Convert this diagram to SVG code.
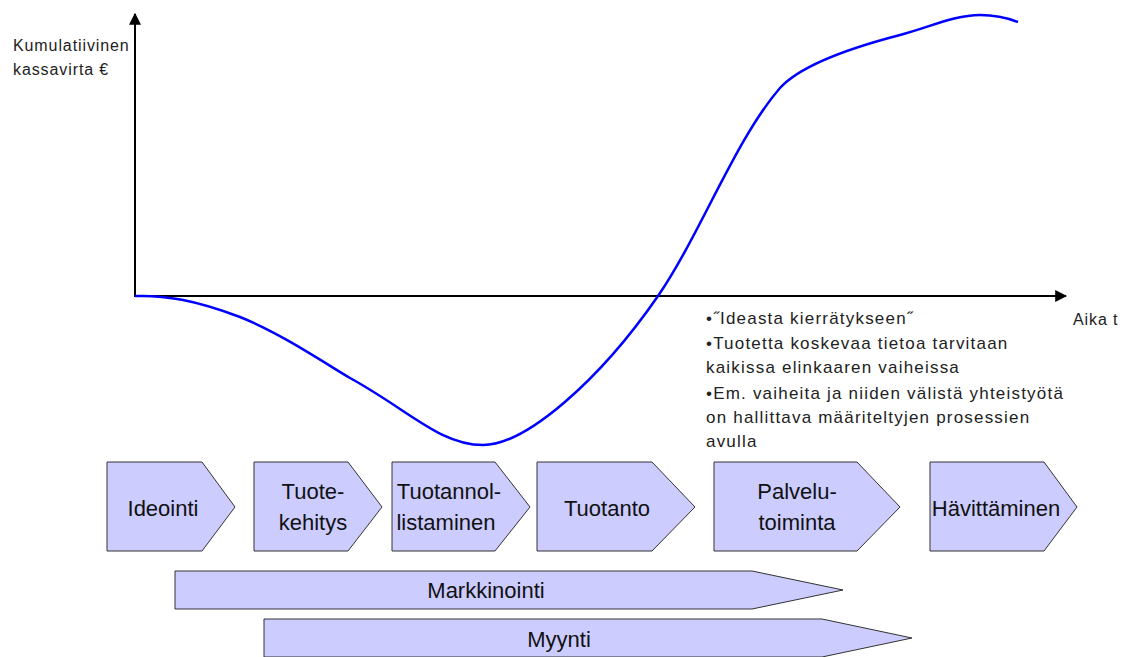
<svg xmlns="http://www.w3.org/2000/svg" width="1128" height="657" viewBox="0 0 1128 657">
  <style>
    .lbl { font-family: "Liberation Sans", Arial, sans-serif; font-size: 22px; fill: #111; text-anchor: middle; }
    .note { font-family: "Liberation Sans", Arial, sans-serif; font-size: 17px; letter-spacing: 1.2px; fill: #222; }
    .axlbl { font-family: "Liberation Sans", Arial, sans-serif; font-size: 16px; letter-spacing: 0.9px; fill: #222; }
    .phase { fill: #ccccff; stroke: #333; stroke-width: 1; }
    .axis { stroke: #000; stroke-width: 2; fill: none; }
    .curve { stroke: #0000ff; stroke-width: 2.5; fill: none; }
  </style>
  <defs>
    <marker id="arrow" viewBox="0 0 10 10" refX="9" refY="5" markerWidth="6" markerHeight="6" orient="auto" markerUnits="strokeWidth">
      <path d="M0,0 L10,5 L0,10 z" fill="#000"/>
    </marker>
  </defs>

  <rect width="1128" height="657" fill="#fff"/>

  <!-- axes and cash-flow curve -->
  <g id="connectors">
    <line class="axis" x1="135" y1="297" x2="135" y2="14" marker-end="url(#arrow)"/>
    <line class="axis" x1="135" y1="296" x2="1066" y2="296" stroke="#333" stroke-width="1.5" marker-end="url(#arrow)"/>
    <path class="curve" d="M135,296 C165,295 195,300 240,317 C280,333 320,360 350,378 C410,411 440,445 483,445 C526,445 600,380 658,296 C700,235 735,140 780,88 C800,66 850,48 900,35 C930,27 955,15 980,15 C995,15 1005,17 1018,22"/>
  </g>

  <text class="axlbl" x="13" y="51">Kumulatiivinen</text>
  <text class="axlbl" x="13" y="75">kassavirta €</text>
  <text class="axlbl" x="1073" y="325" font-size="15" letter-spacing="0.7">Aika t</text>

  <g id="notes">
    <text class="note" x="706" y="324">•˝Ideasta kierrätykseen˝</text>
    <text class="note" x="706" y="349">•Tuotetta koskevaa tietoa tarvitaan</text>
    <text class="note" x="706" y="373">kaikissa elinkaaren vaiheissa</text>
    <text class="note" x="706" y="399">•Em. vaiheita ja niiden välistä yhteistyötä</text>
    <text class="note" x="706" y="423">on hallittava määriteltyjen prosessien</text>
    <text class="note" x="706" y="447">avulla</text>
  </g>

  <!-- life-cycle phases -->
  <g id="ideointi">
    <polygon class="phase" points="107,462 202,462 235,507 202,551 107,551"/>
    <text class="lbl" x="163" y="516">Ideointi</text>
  </g>
  <g id="tuotekehitys">
    <polygon class="phase" points="254,462 348,462 382,507 348,551 254,551"/>
    <text class="lbl" x="313" y="499">Tuote-</text>
    <text class="lbl" x="313" y="530">kehitys</text>
  </g>
  <g id="tuotannollistaminen">
    <polygon class="phase" points="392,462 495,462 530,507 495,551 392,551"/>
    <text class="lbl" x="449" y="499">Tuotannol-</text>
    <text class="lbl" x="446" y="530">listaminen</text>
  </g>
  <g id="tuotanto">
    <polygon class="phase" points="537,462 652,462 695,507 652,551 537,551"/>
    <text class="lbl" x="607" y="516">Tuotanto</text>
  </g>
  <g id="palvelutoiminta">
    <polygon class="phase" points="714,462 857,462 900,507 857,551 714,551"/>
    <text class="lbl" x="797" y="499">Palvelu-</text>
    <text class="lbl" x="797" y="530">toiminta</text>
  </g>
  <g id="havittaminen">
    <polygon class="phase" points="930,462 1044,462 1077,507 1044,551 930,551"/>
    <text class="lbl" x="996" y="516">Hävittäminen</text>
  </g>

  <!-- cross-phase activities -->
  <g id="markkinointi">
    <polygon class="phase" points="175,571 752,571 843,590 752,609 175,609"/>
    <text class="lbl" x="486" y="598" font-size="23">Markkinointi</text>
  </g>
  <g id="myynti">
    <polygon class="phase" points="264,619 822,619 912,638 822,657 264,657"/>
    <text class="lbl" x="559" y="647">Myynti</text>
  </g>
</svg>
